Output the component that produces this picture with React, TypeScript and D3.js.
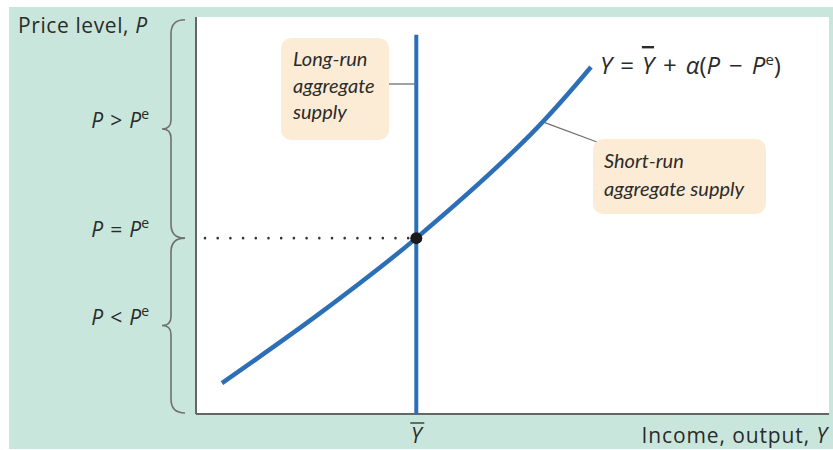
import React from "react";
import * as d3 from "d3";

// Data (in chart units, both axes 0–100)
const srasY = [4.1, 19.6, 34.8, 52.8, 62.4];
const srasP = [7.8, 25.4, 44.3, 70.3, 87.4];
const yBar = 34.8;
const pe = 44.3;
const lrasTop = 95.5;
const braceTop = 99.3;
const braceSigns = [">", "=", "<"];

const W = 833;
const H = 450;

export default function App() {
  const x = d3.scaleLinear().domain([0, 100]).range([196, 829]);
  const y = d3.scaleLinear().domain([0, 100]).range([414, 17]);

  const pts: [number, number][] = srasY.map((v, i) => [v, srasP[i]]);
  const line = d3
    .line<[number, number]>()
    .x((d) => x(d[0]))
    .y((d) => y(d[1]))
    .curve(d3.curveCatmullRom);

  const blue = "#2d6fb6";
  const ink = "#2b2b2b";
  const gray = "#707070";
  const upright = "'Open Sans', sans-serif";
  const boxFont = "Lato, 'Open Sans', sans-serif";

  const bx = 171;
  const brace = (yTop: number, yBot: number) => {
    const ym = (yTop + yBot) / 2;
    const r = 14;
    return `M ${bx + 14} ${yTop} Q ${bx} ${yTop} ${bx} ${yTop + r} L ${bx} ${ym - 9} Q ${bx} ${ym} ${bx - 9} ${ym} Q ${bx} ${ym} ${bx} ${ym + 9} L ${bx} ${yBot - r} Q ${bx} ${yBot} ${bx + 14} ${yBot}`;
  };
  const upperTop = y(braceTop);
  const mid = y(pe);
  const lowerBot = y(0) - 1;
  const cusps = [(upperTop + mid) / 2, mid, (mid + lowerBot) / 2];

  const leaderFrom: [number, number] = [55.1, 73.4];

  return (
    <svg
      width={W}
      height={H}
      style={{ position: "absolute", left: 0, top: 0 }}
      fontFamily={upright}
    >
      <rect x={0} y={0} width={W} height={H} fill="#ffffff" />
      <rect x={9} y={7} width={W - 9} height={442} fill="#c9e6dc" />
      <rect x={x(0)} y={y(100)} width={x(100) - x(0)} height={y(0) - y(100)} fill="#ffffff" />
      <line x1={x(0)} y1={y(100)} x2={x(0)} y2={y(0)} stroke="#666" strokeWidth={2} />
      <line x1={x(0)} y1={y(0)} x2={x(100)} y2={y(0)} stroke="#666" strokeWidth={2} />

      <path d={brace(upperTop, mid)} fill="none" stroke={gray} strokeWidth={1.6} />
      <path d={brace(mid, lowerBot)} fill="none" stroke={gray} strokeWidth={1.6} />

      <text x={18} y={33} fontSize={21} fill={ink} letterSpacing={0.6}>
        Price level, <tspan fontStyle="italic">P</tspan>
      </text>
      {braceSigns.map((s, i) => (
        <text key={i} x={149} y={cusps[i] - 1} fontSize={21} fill={ink} textAnchor="end">
          <tspan fontStyle="italic">P</tspan>
          <tspan dx={7}>{s}</tspan>
          <tspan dx={7} fontStyle="italic">P</tspan>
          <tspan fontSize={14} dy={-9}>e</tspan>
        </text>
      ))}

      <text x={828} y={443} fontSize={21} fill={ink} textAnchor="end" letterSpacing={0.9}>
        Income, output, <tspan fontStyle="italic">Y</tspan>
      </text>
      <text x={x(yBar)} y={443} fontSize={21} fill={ink} textAnchor="middle" fontStyle="italic">
        Y
      </text>
      <line x1={x(yBar) - 6} x2={x(yBar) + 8} y1={423} y2={423} stroke={ink} strokeWidth={1.3} />

      <line
        x1={x(0) + 9}
        y1={y(pe)}
        x2={x(yBar)}
        y2={y(pe)}
        stroke="#333"
        strokeWidth={2.6}
        strokeLinecap="round"
        strokeDasharray="0 12.7"
      />

      <line x1={x(yBar)} y1={y(lrasTop)} x2={x(yBar)} y2={y(0)} stroke={blue} strokeWidth={4} />
      <path d={line(pts) || ""} fill="none" stroke={blue} strokeWidth={4.5} />
      <circle cx={x(yBar)} cy={y(pe)} r={6} fill="#1a1a1a" />

      <line x1={389} y1={84} x2={x(yBar)} y2={84} stroke={gray} strokeWidth={1.3} />
      <rect x={281} y={38} width={108} height={102} rx={10} fill="#fdecd5" />
      <text fontSize={20} fill={ink} fontStyle="italic" fontFamily={boxFont}>
        <tspan x={293} y={66}>Long-run</tspan>
        <tspan x={293} y={93}>aggregate</tspan>
        <tspan x={293} y={119}>supply</tspan>
      </text>

      <line x1={x(leaderFrom[0])} y1={y(leaderFrom[1])} x2={597} y2={142} stroke={gray} strokeWidth={1.3} />
      <rect x={593} y={139} width={173} height={75} rx={10} fill="#fdecd5" />
      <text fontSize={20} fill={ink} fontStyle="italic" fontFamily={boxFont}>
        <tspan x={604} y={168}>Short-run</tspan>
        <tspan x={604} y={196}>aggregate supply</tspan>
      </text>

      <text x={600} y={74} fontSize={24} fill={ink}>
        <tspan fontStyle="italic">Y</tspan>
        <tspan dx={8}>=</tspan>
        <tspan dx={8} fontStyle="italic" textDecoration="overline">Y</tspan>
        <tspan dx={9}>+</tspan>
        <tspan dx={9} fontStyle="italic">α</tspan>
        <tspan>(</tspan>
        <tspan fontStyle="italic">P</tspan>
        <tspan dx={9}>−</tspan>
        <tspan dx={9} fontStyle="italic">P</tspan>
        <tspan fontSize={15} dy={-9}>e</tspan>
        <tspan dy={9}>)</tspan>
      </text>
    </svg>
  );
}
